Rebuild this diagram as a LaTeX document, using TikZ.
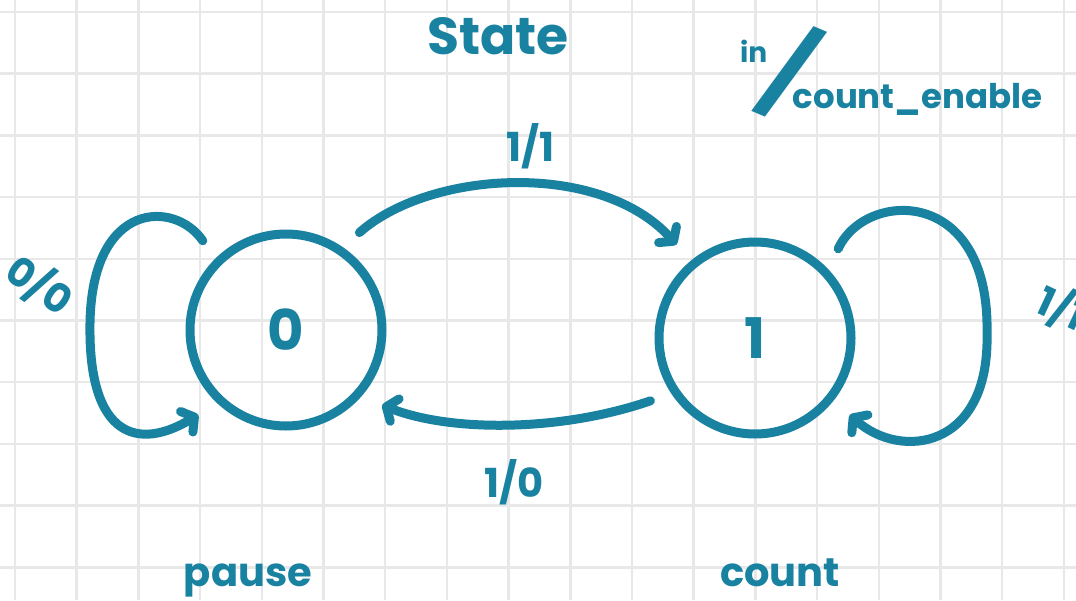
\documentclass[tikz,border=0pt]{standalone}
\usepackage{fontspec}
\setmainfont{Poppins}
\usetikzlibrary{arrows.meta, positioning}
\definecolor{penTeal}{RGB}{24, 130, 160}
\definecolor{gridGray}{RGB}{232, 232, 232}

\begin{document}
\begin{tikzpicture}[
  x=1pt, y=-1pt,
  gridline/.style={draw=gridGray, line width=2.5pt},
  fsmstate/.style={circle, draw=penTeal, line width=9pt, minimum size=192pt, outer sep=26pt, text=penTeal, font=\fontsize{56pt}{56pt}\selectfont\bfseries},
  hand/.style={text=penTeal, inner sep=0pt, font=\fontsize{40pt}{40pt}\selectfont\bfseries},
  transition/.style={draw=penTeal, line width=9pt, line cap=round, -{Straight Barb[length=9pt, width=24pt, round]}}
]

  % Paper
  \useasboundingbox (0,0) rectangle (1076,600);
  \clip (0,0) rectangle (1076,600);
  \fill[white] (0,0) rectangle (1076,600);
  \foreach \i in {0,...,17}
    \draw[gridline] ({15+61.7*\i},0) -- ({15+61.7*\i},600);
  \foreach \j in {0,...,9}
    \draw[gridline] (0,{12+61.7*\j}) -- (1076,{12+61.7*\j});

  % States
  \node[fsmstate] (s0) at (286,330) {0};
  \node[fsmstate] (s1) at (755,338) {1};

  % Labels
  \node[hand, font=\fontsize{52pt}{52pt}\selectfont\bfseries] (title) at (498,36) {State};
  \node[hand, anchor=base west, font=\fontsize{34pt}{34pt}\selectfont\bfseries] (legend) at (740,108)
    {\raisebox{46pt}{\fontsize{28pt}{28pt}\selectfont in}\hspace{-16pt}\raisebox{2pt}{\fontsize{90pt}{90pt}\selectfont\rotatebox[origin=c]{-23}{/}}\hspace{-36pt}count\_enable};
  \node[hand, anchor=base] (pause) at (248,586) {pause};
  \node[hand, anchor=base] (count) at (780,586) {count};

  % Transitions
  \draw[transition] (s0.53) .. controls (430,170) and (600,160) .. (s1.130)
    node[hand, pos=0.5, above=10pt, xshift=15pt] (t01) {1/1};
  \draw[transition] (s1.211) .. controls (560,432) and (450,432) .. (s0.322)
    node[hand, pos=0.5, below=30pt, xshift=6pt] (t10) {1/0};
  \draw[transition] (s0.133) .. controls (175,200) and (92,200) .. (90,323)
    .. controls (88,440) and (140,450) .. (s0.224);
  \draw[transition] (s1.47) .. controls (865,190) and (990,185) .. (987,333)
    .. controls (990,450) and (900,460) .. (s1.321);
  \node[hand, rotate=-35] (t00) at (40,285) {0/0};
  \node[hand, rotate=-25] (t11) at (1062,308) {1/1};

\end{tikzpicture}
\end{document}
